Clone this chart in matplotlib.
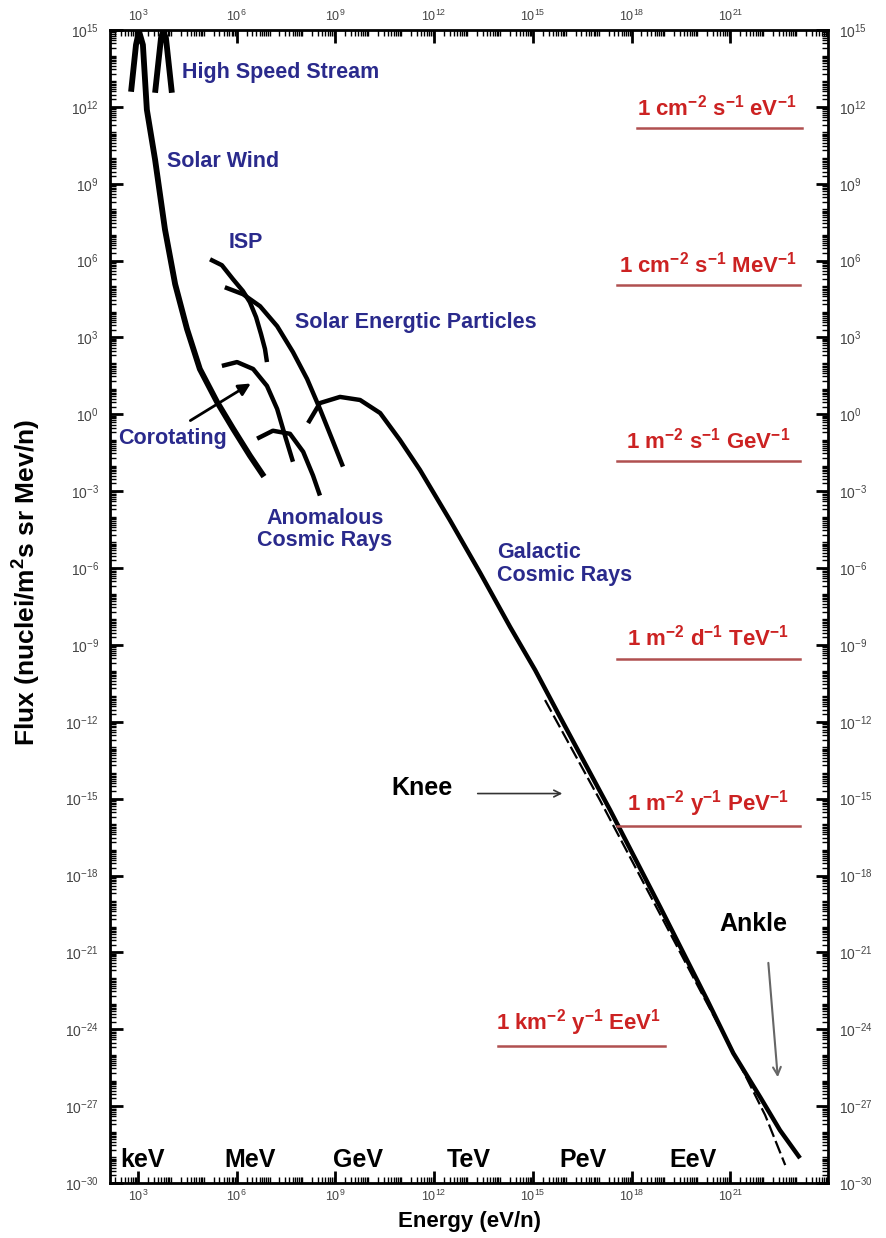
import numpy as np
import matplotlib
matplotlib.use("Agg")
import matplotlib.pyplot as plt
from matplotlib.ticker import FixedLocator, LogLocator, LogFormatterMathtext, NullFormatter

plt.rcParams['font.family'] = ['Liberation Sans', 'DejaVu Sans']
plt.rcParams['mathtext.fontset'] = 'custom'
plt.rcParams['mathtext.rm'] = 'Liberation Sans'
plt.rcParams['mathtext.bf'] = 'Liberation Sans:bold'
plt.rcParams['mathtext.default'] = 'bf'

# all curves as log10(energy eV/n), log10(flux)
solar_wind_x = [2.79, 2.94, 3.03, 3.15, 3.27, 3.52, 3.82, 4.13, 4.49, 4.88, 5.40, 5.89, 6.40, 6.83]
solar_wind_y = [12.59, 14.42, 14.96, 14.42, 11.89, 9.94, 7.22, 5.08, 3.33, 1.77, 0.49, -0.56, -1.61, -2.43]

hss_x = [3.52, 3.70, 3.76, 3.85, 4.03]
hss_y = [12.55, 14.69, 14.92, 14.69, 12.55]

isp_x = [5.19, 5.55, 5.89, 6.19, 6.40, 6.59, 6.74, 6.86, 6.92]
isp_y = [6.05, 5.82, 5.27, 4.81, 4.38, 3.79, 3.13, 2.55, 2.04]

sep_x = [5.64, 6.19, 6.71, 7.23, 7.71, 8.14, 8.53, 8.93, 9.23]
sep_y = [4.96, 4.69, 4.22, 3.44, 2.43, 1.38, 0.21, -1.07, -2.04]

corot_x = [5.55, 6.01, 6.50, 6.92, 7.23, 7.47, 7.71]
corot_y = [1.89, 2.04, 1.77, 1.11, 0.21, -0.84, -1.85]

acr_x = [6.62, 7.10, 7.62, 8.02, 8.32, 8.53]
acr_y = [-0.95, -0.64, -0.76, -1.46, -2.39, -3.17]

gcr_x = [8.17, 8.53, 9.14, 9.75, 10.36, 10.96, 11.57, 12.48, 13.40, 14.31, 15.07,
         15.83, 17.35, 18.87, 20.30, 21.09, 21.91, 22.51, 23.12]
gcr_y = [-0.34, 0.44, 0.68, 0.56, 0.05, -1.00, -2.17, -4.13, -6.19, -8.30, -9.98,
         -11.82, -15.45, -19.23, -22.86, -24.93, -26.65, -27.94, -29.03]

gcr_alt_x = [15.37, 17.04, 18.56, 20.08, 21.30, 22.06, 22.67]
gcr_alt_y = [-11.15, -15.06, -18.76, -22.47, -25.40, -27.35, -29.30]

unit_labels = [r'1 cm$^{-2}$ s$^{-1}$ eV$^{-1}$', r'1 cm$^{-2}$ s$^{-1}$ MeV$^{-1}$',
               r'1 m$^{-2}$ s$^{-1}$ GeV$^{-1}$', r'1 m$^{-2}$ d$^{-1}$ TeV$^{-1}$',
               r'1 m$^{-2}$ y$^{-1}$ PeV$^{-1}$', r'1 km$^{-2}$ y$^{-1}$ EeV$^{1}$']
unit_levels = [11.16, 5.03, -1.84, -9.53, -16.08, -24.66]

energy_names = ['keV', 'MeV', 'GeV', 'TeV', 'PeV', 'EeV']
energy_pos = [3.15, 6.40, 9.69, 13.06, 16.53, 19.87]

fig = plt.figure(figsize=(8.87, 12.38), dpi=100)
ax = fig.add_axes([110 / 887, 55 / 1238, 718 / 887, 1153 / 1238])
ax.set_xscale('log')
ax.set_yscale('log')

def p(xs, ys):
    return 10.0 ** np.array(xs), 10.0 ** np.array(ys)

lw = 3.2
ax.plot(*p(solar_wind_x, solar_wind_y), color='black', lw=lw + 1, solid_capstyle='butt')
ax.plot(*p(hss_x, hss_y), color='black', lw=lw + 1, solid_capstyle='butt')
for xs, ys in [(isp_x, isp_y), (sep_x, sep_y), (corot_x, corot_y), (acr_x, acr_y), (gcr_x, gcr_y)]:
    ax.plot(*p(xs, ys), color='black', lw=lw, solid_capstyle='butt')
ax.plot(*p(gcr_alt_x, gcr_alt_y), color='black', lw=1.6, ls=(0, (6, 2)))

ax.set_xlim(10 ** 2.15, 10 ** 23.97)
ax.set_ylim(1e-30, 1e15)

ax.xaxis.set_major_locator(FixedLocator([10.0 ** k for k in range(3, 22, 3)]))
ax.yaxis.set_major_locator(FixedLocator([10.0 ** k for k in range(-30, 16, 3)]))
ax.xaxis.set_major_formatter(LogFormatterMathtext())
ax.yaxis.set_major_formatter(LogFormatterMathtext())
ax.xaxis.set_minor_locator(LogLocator(base=10, subs=np.arange(1, 10), numticks=200))
ax.yaxis.set_minor_locator(LogLocator(base=10, subs=np.arange(1, 10), numticks=200))
ax.xaxis.set_minor_formatter(NullFormatter())
ax.yaxis.set_minor_formatter(NullFormatter())
ax.tick_params(which='both', direction='in', top=True, right=True,
               labeltop=True, labelright=True)
ax.tick_params(which='major', length=9, width=2, labelsize=10, labelcolor='#444444')
ax.tick_params(axis='y', which='major', pad=8)
ax.tick_params(axis='x', which='major', pad=4, labelsize=9)
ax.tick_params(which='minor', length=4, width=1)
for s in ax.spines.values():
    s.set_linewidth(2)

ax.set_xlabel('Energy (eV/n)', fontsize=16, fontweight='bold')
ax.set_ylabel(r'Flux (nuclei/m$^2$s sr Mev/n)', fontsize=19, fontweight='bold')
ax.xaxis.set_label_coords(0.501, -0.024)
ax.yaxis.set_label_coords(-0.094, 0.521)

blue = '#2a2a8c'
bfs = 15.5
ax.text(10 ** 4.34, 10 ** 13.36, 'High Speed Stream', color=blue, fontsize=bfs, fontweight='bold', va='center')
ax.text(10 ** 3.88, 10 ** 9.85, 'Solar Wind', color=blue, fontsize=bfs, fontweight='bold', va='center')
ax.text(10 ** 5.74, 10 ** 6.69, 'ISP', color=blue, fontsize=bfs, fontweight='bold', va='center')
ax.text(10 ** 7.77, 10 ** 3.60, 'Solar Energtic Particles', color=blue, fontsize=bfs, fontweight='bold', va='center')
ax.text(10 ** 2.39, 10 ** -0.93, 'Corotating', color=blue, fontsize=bfs, fontweight='bold', va='center')
ax.text(10 ** 8.68, 10 ** -4.5, 'Anomalous\nCosmic Rays', color=blue, fontsize=bfs, fontweight='bold',
        va='center', ha='center', linespacing=1.1)
ax.text(10 ** 13.91, 10 ** -5.84, 'Galactic\nCosmic Rays', color=blue, fontsize=bfs, fontweight='bold',
        va='center', ha='left', linespacing=1.1)

ax.annotate('', xy=(10 ** 6.50, 10 ** 1.26), xytext=(10 ** 4.52, 10 ** -0.30),
            arrowprops=dict(arrowstyle='-|>', color='black', lw=2, mutation_scale=18))

ax.text(10 ** 11.63, 10 ** -14.6, 'Knee', fontsize=18, fontweight='bold', ha='center', va='center')
ax.annotate('', xy=(10 ** 15.98, 10 ** -14.8), xytext=(10 ** 13.24, 10 ** -14.8),
            arrowprops=dict(arrowstyle='->', color='#333333', lw=1.2, mutation_scale=12))
ax.text(10 ** 21.69, 10 ** -19.9, 'Ankle', fontsize=18, fontweight='bold', ha='center', va='center')
ax.annotate('', xy=(10 ** 22.45, 10 ** -25.98), xytext=(10 ** 22.15, 10 ** -21.30),
            arrowprops=dict(arrowstyle='->', color='#666666', lw=1.5, mutation_scale=14))

red = '#cc2222'
line_spans = [(18.17, 23.18), (17.56, 23.12), (17.56, 23.12), (17.56, 23.12), (17.56, 23.12), (13.94, 19.02)]
text_x = [20.60, 20.33, 20.33, 20.33, 20.33, 16.40]
for lab, lev, (x0, x1), xm in zip(unit_labels, unit_levels, line_spans, text_x):
    ax.plot([10 ** x0, 10 ** x1], [10 ** lev, 10 ** lev], color='#b05050', lw=1.8)
    ax.text(10 ** xm, 10 ** (lev + 0.3), lab, color=red, fontsize=16, fontweight='bold',
            ha='center', va='bottom')

for name, pos in zip(energy_names, energy_pos):
    ax.text(10 ** pos, 10 ** -29.1, name, fontsize=18, fontweight='bold', ha='center', va='center')

fig.savefig('out.png', dpi=100)
